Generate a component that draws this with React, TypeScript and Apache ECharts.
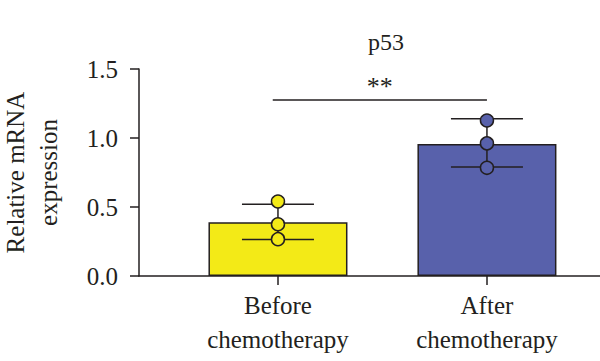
import React, { useEffect, useRef } from "react";
import * as echarts from "echarts";

const categories = ["Before\nchemotherapy", "After\nchemotherapy"];
const positions = [0, 1];
const means = [0.39, 0.957];
const errLow = [0.265, 0.79];
const errHigh = [0.52, 1.14];
const pointsBefore = [0.54, 0.375, 0.267];
const pointsAfter = [1.127, 0.961, 0.784];
const barColors = ["#F3EA17", "#5861AB"];
const yTicks = [0, 0.5, 1.0, 1.5];
const sigLabel = "**";
const sigY = 1.28;
const sigFrom = -0.025;
const sigTo = 1;

const FONT = "Liberation Serif";
const INK = "#231f20";

export default function App() {
  const ref = useRef<HTMLDivElement>(null);
  useEffect(() => {
    const chart = echarts.init(ref.current!, null, { renderer: "svg" });
    const scatterData: any[] = [];
    pointsBefore.forEach((v) =>
      scatterData.push({ value: [positions[0], v], itemStyle: { color: barColors[0] } })
    );
    pointsAfter.forEach((v) =>
      scatterData.push({ value: [positions[1], v], itemStyle: { color: barColors[1] } })
    );
    chart.setOption({
      animation: false,
      backgroundColor: "#ffffff",
      title: {
        text: "p53",
        left: 381,
        top: 25,
        textAlign: "center",
        textStyle: { fontFamily: FONT, fontSize: 24, fontWeight: "normal", color: INK },
      },
      grid: { left: 139, right: 0, top: 69, bottom: 85, containLabel: false, outerBoundsMode: "none" },
      xAxis: {
        type: "value",
        min: -0.665,
        max: 1.541,
        splitLine: { show: false },
        axisLine: { show: true, onZero: false, lineStyle: { color: INK, width: 1.5 } },
        axisTick: {
          show: true,
          length: 9,
          customValues: positions,
          lineStyle: { color: INK, width: 1.5 },
        },
        axisLabel: {
          customValues: positions,
          formatter: (v: number) => categories[Math.round(v)] ?? "",
          fontFamily: FONT,
          fontSize: 25,
          color: INK,
          lineHeight: 34,
          margin: 12,
        },
      },
      yAxis: {
        type: "value",
        min: 0,
        max: 1.5,
        interval: 0.5,
        name: "Relative mRNA\nexpression",
        nameLocation: "middle",
        nameGap: 74,
        nameTextStyle: { fontFamily: FONT, fontSize: 25, color: INK, lineHeight: 33 },
        splitLine: { show: false },
        axisLine: { show: true, onZero: false, lineStyle: { color: INK, width: 1.5 } },
        axisTick: { show: true, length: 9, lineStyle: { color: INK, width: 1.5 } },
        axisLabel: {
          formatter: (v: number) => (yTicks.includes(v) ? v.toFixed(1) : ""),
          fontFamily: FONT,
          fontSize: 25,
          color: INK,
          margin: 21,
        },
      },
      series: [
        {
          type: "bar",
          barWidth: 139,
          data: positions.map((p, i) => ({
            value: [p, means[i]],
            itemStyle: { color: barColors[i], borderColor: INK, borderWidth: 1.5 },
          })),
          z: 1,
          markLine: {
            silent: true,
            symbol: ["none", "none"],
            lineStyle: { color: INK, width: 1.5, type: "solid" },
            label: {
              show: true,
              position: "middle",
              formatter: sigLabel,
              fontFamily: FONT,
              fontSize: 26,
              color: INK,
              distance: 0,
            },
            data: [[{ coord: [sigFrom, sigY] }, { coord: [sigTo, sigY] }]],
          },
        },
        {
          type: "custom",
          z: 3,
          data: positions.map((p, i) => [p, errLow[i], errHigh[i]]),
          renderItem: (params: any, api: any) => {
            const x = api.value(0);
            const lo = api.coord([x, api.value(1)]);
            const hi = api.coord([x, api.value(2)]);
            const half = 36;
            const style = { stroke: INK, lineWidth: 1.5 };
            return {
              type: "group",
              children: [
                { type: "line", shape: { x1: lo[0], y1: lo[1], x2: hi[0], y2: hi[1] }, style },
                { type: "line", shape: { x1: lo[0] - half, y1: lo[1], x2: lo[0] + half, y2: lo[1] }, style },
                { type: "line", shape: { x1: hi[0] - half, y1: hi[1], x2: hi[0] + half, y2: hi[1] }, style },
              ],
            };
          },
        },
        {
          type: "scatter",
          z: 4,
          symbol: "circle",
          symbolSize: 13,
          itemStyle: { borderColor: INK, borderWidth: 1.5, opacity: 1 },
          data: scatterData,
        },
      ],
    });
    return () => chart.dispose();
  }, []);
  return (
    <div
      ref={ref}
      style={{ position: "absolute", left: 0, top: 0, width: 600, height: 361 }}
    />
  );
}
